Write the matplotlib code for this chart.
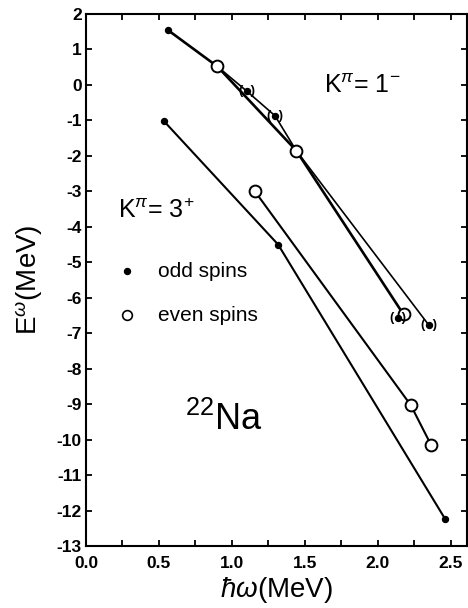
import matplotlib
matplotlib.use("Agg")
import matplotlib.pyplot as plt
from matplotlib.ticker import MultipleLocator

plt.rcParams['font.family'] = ['Liberation Sans', 'DejaVu Sans']
plt.rcParams['mathtext.fontset'] = 'custom'
plt.rcParams['mathtext.rm'] = 'Liberation Sans'
plt.rcParams['mathtext.it'] = 'Liberation Sans:italic'
plt.rcParams['mathtext.sf'] = 'Liberation Sans'
plt.rcParams['axes.unicode_minus'] = False

# ---- data (hbar*omega [MeV], E^omega [MeV]) ----
# K^pi = 1-  band
k1_odd_x = [0.56, 1.10, 1.295, 2.138, 2.35]
k1_odd_y = [1.55, -0.17, -0.87, -6.56, -6.78]
k1_odd_tentative = [False, True, True, True, True]
k1_even_x = [0.90, 1.44, 2.175]
k1_even_y = [0.52, -1.85, -6.47]
# connecting lines of the K=1- band
k1_lineA_x = [0.56, 0.90, 1.44, 2.175]
k1_lineA_y = [1.55, 0.52, -1.85, -6.47]
k1_lineB_x = [0.90, 1.10, 1.295, 1.44, 2.35]
k1_lineB_y = [0.52, -0.17, -0.87, -1.85, -6.78]

# K^pi = 3+  band
k3_odd_x = [0.536, 1.316, 2.459]
k3_odd_y = [-1.03, -4.50, -12.23]
k3_even_x = [1.157, 2.225, 2.365]
k3_even_y = [-3.0, -9.03, -10.16]

y_ticks = list(range(2, -14, -1))
x_ticks = [0.0, 0.5, 1.0, 1.5, 2.0, 2.5]
x_tick_labels = ['0.0', '0.5', '1.0', '1.5', '2.0', '2.5']

fig = plt.figure(figsize=(4.68, 6.08), dpi=100)
ax = fig.add_axes([86/468, 1-546/608, (467-86)/468, (546-14)/608])

lw_line = 1.5
ax.plot(k1_lineA_x, k1_lineA_y, color='black', lw=1.9, zorder=2)
ax.plot(k1_lineB_x, k1_lineB_y, color='black', lw=1.2, zorder=2)
ax.plot(k3_odd_x, k3_odd_y, color='black', lw=lw_line, zorder=2)
ax.plot(k3_even_x, k3_even_y, color='black', lw=lw_line, zorder=2)

# markers
ax.plot(k1_odd_x, k1_odd_y, 'o', ms=4.3, color='black', zorder=4)
ax.plot(k3_odd_x, k3_odd_y, 'o', ms=4.3, color='black', zorder=4)
ax.plot(k1_even_x, k1_even_y, 'o', ms=8.5, mfc='white', mec='black', mew=1.4, zorder=3)
ax.plot(k3_even_x, k3_even_y, 'o', ms=8.5, mfc='white', mec='black', mew=1.4, zorder=3)

for x, y, t in zip(k1_odd_x, k1_odd_y, k1_odd_tentative):
    if t:
        ax.text(x, y, '(  )', ha='center', va='center', fontsize=9.5,
                fontweight='bold', zorder=5)

ax.set_xlim(0, 2.61)
ax.set_ylim(-13, 2)

ax.xaxis.set_minor_locator(MultipleLocator(0.25))
ax.set_xticks(x_ticks)
ax.set_xticklabels(x_tick_labels)
ax.set_yticks(y_ticks)
ax.set_yticklabels([str(v) for v in y_ticks])

ax.tick_params(which='both', direction='in', top=True, right=True,
               length=4.5, width=1.3, labelsize=12.5, pad=3)
ax.tick_params(axis='x', pad=7)
for lab in ax.get_xticklabels() + ax.get_yticklabels():
    lab.set_fontweight('bold')
for s in ax.spines.values():
    s.set_linewidth(1.5)

ax.set_xlabel(r'$\hbar\omega$(MeV)', fontsize=20, labelpad=3)
ax.set_ylabel(r'E$^{\omega}$(MeV)', fontsize=20, labelpad=8)

# annotations
ax.text(1.63, -0.02, r'K$^{\pi}$= 1$^{-}$', fontsize=18, ha='left', va='center')
ax.text(0.22, -3.55, r'K$^{\pi}$= 3$^{+}$', fontsize=18, ha='left', va='center')
ax.plot([0.28], [-5.25], 'o', ms=4.3, color='black')
ax.text(0.49, -5.25, 'odd spins', fontsize=15, ha='left', va='center')
ax.plot([0.28], [-6.5], 'o', ms=7, mfc='white', mec='black', mew=1.2)
ax.text(0.49, -6.5, 'even spins', fontsize=15, ha='left', va='center')
ax.text(0.68, -9.45, r'$^{22}$Na', fontsize=26, ha='left', va='center')

fig.savefig('out.png', dpi=100)
